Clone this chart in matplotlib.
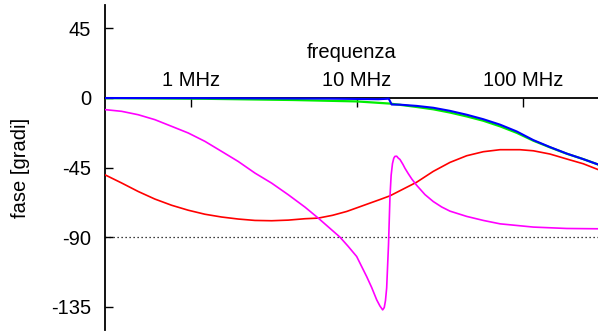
import matplotlib
matplotlib.use("Agg")
import matplotlib.pyplot as plt
from matplotlib.ticker import NullLocator

plt.rcParams['font.family'] = ['Liberation Sans', 'DejaVu Sans']
plt.rcParams['axes.unicode_minus'] = False

# frequenze in MHz, fasi in gradi
f_red = [0.3046, 0.384, 0.4834, 0.6094, 0.7683, 0.9673, 1.219, 1.537, 1.935, 2.44,
         3.076, 3.873, 4.883, 5.871, 7.149, 8.71, 10.18, 12.03, 13.81, 15.87,
         18.23, 22.98, 28.93, 36.48, 45.99, 57.91, 73.02, 96.3, 115.9, 146.0,
         184.1, 231.8, 285.4]
ph_red = [-49.7, -55.0, -60.5, -65.4, -69.4, -72.6, -75.2, -77.0, -78.3, -79.2,
          -79.4, -79.0, -78.1, -77.7, -75.9, -73.4, -70.8, -68.0, -65.7, -63.3,
          -60.0, -54.5, -47.5, -41.7, -37.4, -34.8, -33.5, -33.5, -34.2, -36.3,
          -39.5, -42.6, -46.4]

f_green = [0.3046, 1.219, 4.15, 10.0, 15.87, 18.23, 22.98, 28.93, 36.48, 45.99,
           57.91, 73.02, 92.04, 115.9, 146.0, 184.1, 231.8, 285.4]
ph_green = [-0.2, -0.6, -1.4, -2.3, -3.7, -4.5, -5.9, -7.4, -9.5, -12.0,
            -14.8, -18.4, -22.6, -27.7, -32.0, -36.1, -39.6, -43.1]

f_blue = [0.3046, 1.219, 4.15, 6.9, 10.0, 13.5, 15.2, 15.6, 16.25, 18.23,
          22.98, 28.93, 36.48, 45.99, 57.91, 73.02, 92.04, 115.9, 146.0, 184.1,
          231.8, 285.4]
ph_blue = [-0.1, -0.2, -0.4, -0.5, -0.7, -0.9, -0.6, -0.5, -4.3, -4.4,
           -5.2, -6.4, -8.4, -10.9, -13.8, -17.3, -21.7, -27.3, -31.8, -36.0,
           -39.6, -43.1]

f_mag = [0.3046, 0.384, 0.4834, 0.6094, 0.7683, 0.9673, 1.219, 1.537, 1.935, 2.44,
         3.076, 3.873, 4.883, 5.871, 7.934, 8.864, 10.0, 11.49, 12.31, 13.2,
         13.81, 14.34, 14.66, 14.91, 15.16, 15.55, 15.87, 16.13, 16.43, 16.73,
         17.0, 17.42, 17.8, 18.23, 19.0, 19.54, 20.46, 21.5, 22.98, 25.78,
         28.93, 32.5, 36.48, 45.99, 57.91, 73.02, 115.9, 184.1, 285.4]
ph_mag = [-7.6, -8.7, -10.9, -14.1, -18.4, -22.7, -28.1, -34.6, -41.1, -48.6,
          -55.1, -62.6, -70.6, -77.7, -90.0, -95.8, -102.5, -115.5, -122.5, -130.5,
          -134.5, -137.0, -135.5, -131.0, -122.8, -95.0, -63.9, -50.0, -42.5, -39.0,
          -37.8, -37.7, -38.9, -39.8, -43.0, -45.5, -49.0, -52.5, -56.5, -62.5,
          -67.0, -70.5, -73.2, -76.6, -79.2, -81.4, -83.5, -84.4, -84.6]

xticks = [1, 10, 100]
xticklabels = ['1 MHz', '10 MHz', '100 MHz']
yticks = [45, 0, -45, -90, -135]

fig = plt.figure(figsize=(5.98, 3.31), dpi=100)
ax = fig.add_axes([105/598, 1/331, 493/598, 325/331])

ax.plot(f_red, ph_red, color='#ff0000', lw=1.2, zorder=3)
ax.plot(f_green, ph_green, color='#00ee00', lw=1.6, zorder=3)
ax.plot(f_blue, ph_blue, color='#0000ff', lw=1.5, zorder=3)
ax.plot(f_mag, ph_mag, color='#ff00ff', lw=1.2, zorder=3)
ax.axhline(-90, color='black', lw=0.9, ls=(0, (1, 2.2)))

ax.set_xscale('log')
ax.set_xlim(0.305, 284.1)
ax.set_ylim(-150, 60)

# asse x in y=0, etichette sopra
ax.spines['bottom'].set_visible(False)
ax.spines['right'].set_visible(False)
ax.spines['top'].set_position(('data', 0))
ax.spines['top'].set_linewidth(1.3)
ax.spines['left'].set_linewidth(1.3)
ax.xaxis.tick_top()
ax.xaxis.set_label_position('top')
ax.xaxis.set_minor_locator(NullLocator())
ax.set_xticks(xticks)
ax.set_xticklabels(xticklabels)
ax.set_yticks(yticks)
ax.tick_params(axis='x', direction='in', length=6.5, width=1.0, pad=6, labelsize=14.5)
ax.tick_params(axis='y', direction='in', length=6, width=1.0, pad=10, labelsize=14.5)

ax.set_xlabel('frequenza', fontsize=14.5, labelpad=9)
ax.set_ylabel('fase [gradi]', fontsize=14.5, labelpad=15)

fig.savefig('out.png', dpi=100)
